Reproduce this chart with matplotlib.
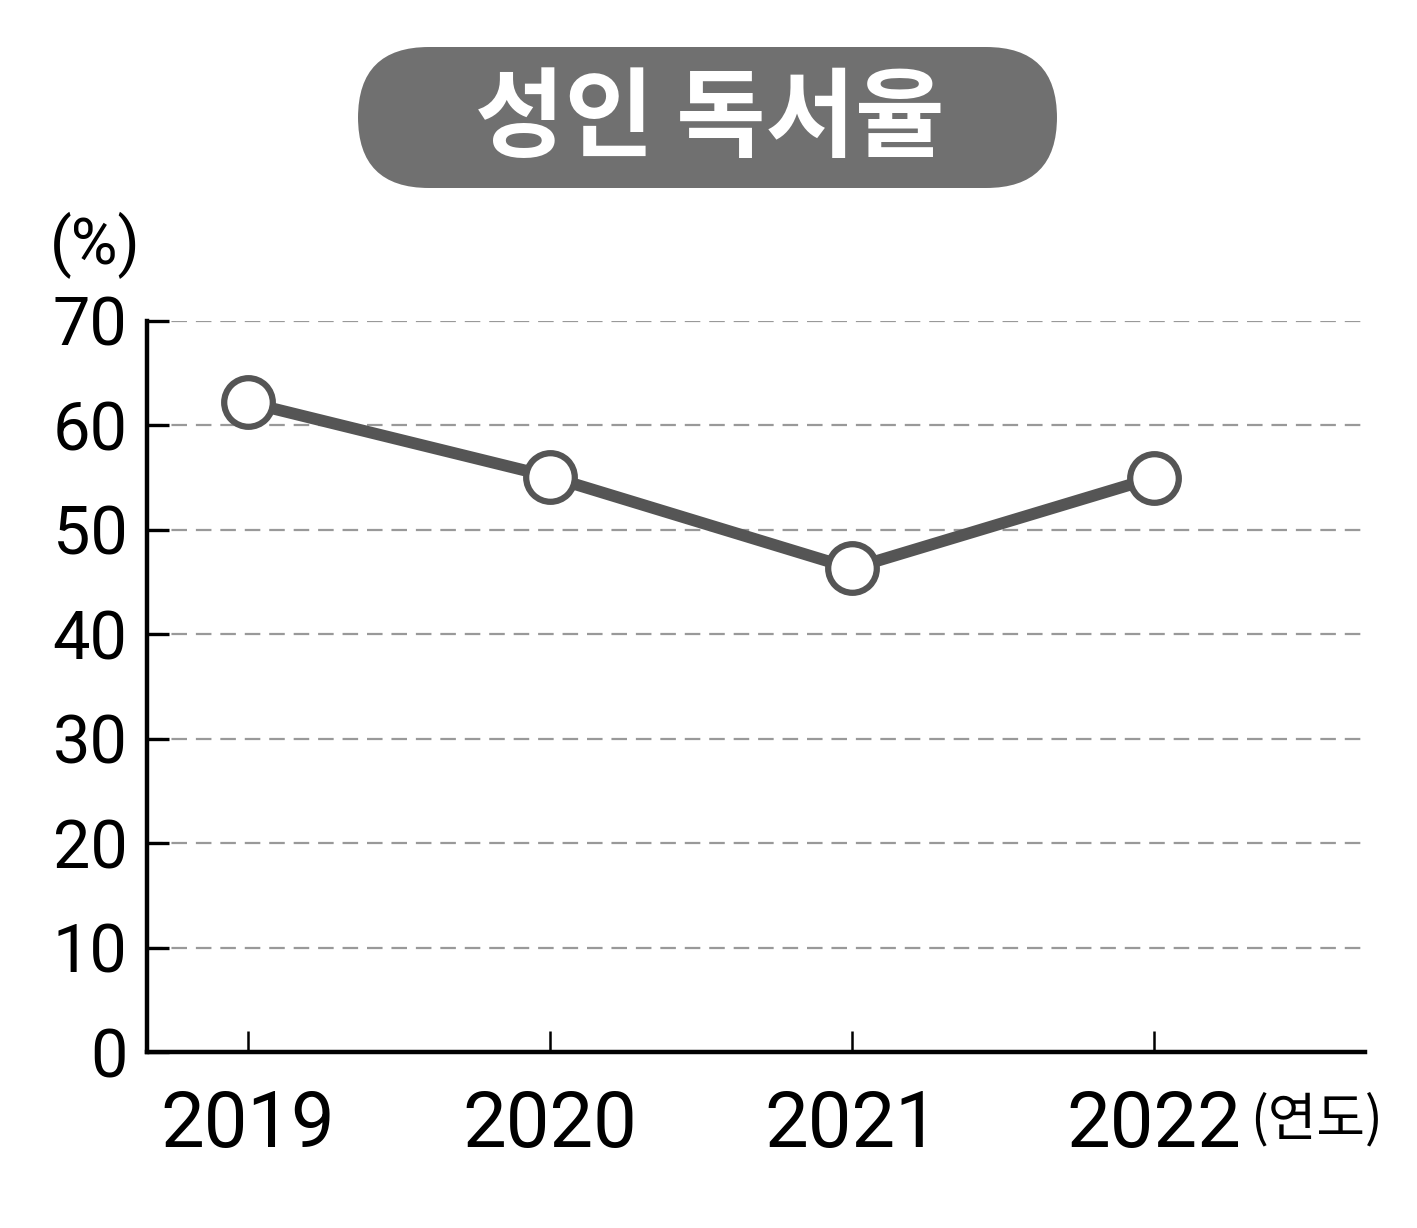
import matplotlib
matplotlib.use("Agg")
import matplotlib.pyplot as plt
from matplotlib.patches import FancyBboxPatch
from matplotlib import font_manager

years = ["2019", "2020", "2021", "2022"]
rates = [62.2, 55.1, 46.3, 55.0]
y_ticks = [0, 10, 20, 30, 40, 50, 60, 70]

names = {f.name for f in font_manager.fontManager.ttflist}
num_font = 'Liberation Sans Narrow' if 'Liberation Sans Narrow' in names else 'Roboto'
plt.rcParams['font.family'] = [num_font, 'Noto Sans CJK KR', 'DejaVu Sans']

fig = plt.figure(figsize=(14.17, 12.28), dpi=100)
ax = fig.add_axes([147/1417, 1 - 1052/1228, (1365-147)/1417, (1052-321)/1228])

x = list(range(len(years)))
ax.plot(x, rates, color='#555555', linewidth=8.5, zorder=3,
        marker='o', markersize=35, markerfacecolor='white',
        markeredgecolor='#555555', markeredgewidth=4.5)

ax.set_xlim(-0.335, 3.70)
ax.set_ylim(0, 70)
ax.set_yticks(y_ticks)
ax.set_xticks(x)
ax.set_xticklabels(years)
for t in y_ticks[1:]:
    ax.axhline(t, color='#999999', linewidth=1.6, dashes=(7, 4), zorder=1)

for s in ['top', 'right']:
    ax.spines[s].set_visible(False)
for s in ['left', 'bottom']:
    ax.spines[s].set_linewidth(3.2)
    ax.spines[s].set_color('black')

ax.tick_params(axis='y', direction='in', length=16, width=2.4, pad=14, labelsize=48)
ax.tick_params(axis='x', direction='in', length=15, width=1.8, pad=26, labelsize=56)

fig.text(50/1417, 1 - 245/1228, "(%)", fontsize=46, ha='left', va='center')
fig.text(1250/1417, 1 - 1120/1228, "(연도)", fontsize=38, ha='left', va='center',
         family=['Noto Sans CJK KR', 'DejaVu Sans'])

# title pill
box = FancyBboxPatch((358/1417, 1 - 188/1228), (1057-358)/1417, (188-47)/1228,
                     boxstyle="round,pad=0,rounding_size=0.05", transform=fig.transFigure,
                     facecolor='#707070', edgecolor='none', mutation_aspect=1417/1228)
fig.patches.append(box)
fig.text(710/1417, 1 - 120/1228, "성인 독서율", fontsize=70, fontweight='bold',
         color='white', ha='center', va='center',
         family=['Noto Sans CJK KR', 'DejaVu Sans'])

fig.savefig("out.png", dpi=100)
